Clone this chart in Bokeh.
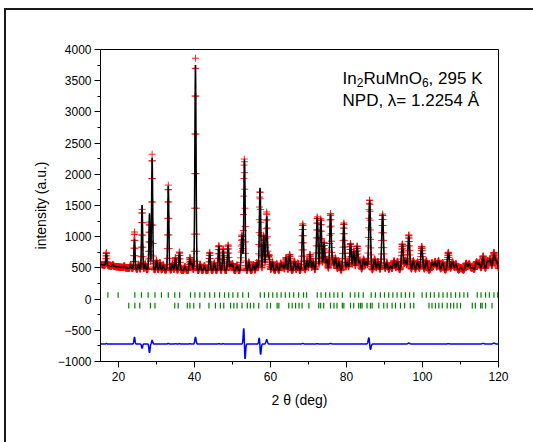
import numpy as np
from bokeh.plotting import figure
from bokeh.models import Range1d, Label, SingleIntervalTicker
from bokeh.embed import file_html
from bokeh.resources import INLINE

# ---------------- data ----------------
two_theta_start = 15.3
two_theta_end = 120.0
two_theta_step = 0.05

bg_pos = [15.3, 18, 20, 22, 25, 30, 40, 60, 80, 100, 120]
bg_val = [555, 530, 515, 500, 480, 470, 460, 455, 460, 465, 465]

# main reflections: position, calculated height, observed height, observed position
peak_pos = [16.8, 24.2, 26.2, 28.15, 28.85, 30.0, 33.1, 35.0, 36.05, 38.8,
            40.25, 44.0, 46.4, 47.55, 48.85, 50.0, 52.45, 53.15, 57.25, 58.2,
            59.0, 59.6, 61.65, 64.1, 65.05, 68.5, 70.4, 72.3, 73.25, 74.1,
            75.8, 77.1, 79.3, 81.05, 81.9, 82.8, 84.5, 86.1, 89.5, 91.6,
            94.7, 96.4, 99.8, 102.5, 106.8, 110.1, 113.1, 115.95, 118.8]
peak_calc = [195, 480, 1030, 900, 1790, 150, 1350, 195, 285, 200,
             3290, 290, 395, 345, 410, 110, 570, 1780, 1330, 570,
             870, 250, 110, 210, 260, 740, 260, 855, 830, 450,
             900, 200, 760, 430, 310, 390, 180, 1120, 900, 70,
             420, 550, 380, 120, 280, 40, 40, 215, 265]
peak_obs = [205, 590, 960, 760, 1850, 150, 1360, 200, 290, 205,
            3400, 290, 400, 350, 410, 110, 570, 1790, 1270, 570,
            940, 250, 110, 210, 260, 750, 260, 860, 830, 450,
            910, 200, 760, 430, 310, 390, 180, 1130, 900, 70,
            420, 565, 380, 120, 285, 40, 40, 225, 280]
peak_obs_pos = [16.8, 24.2, 26.2, 28.15, 28.85, 30.0, 33.1, 35.0, 36.05, 38.8,
                40.25, 44.0, 46.4, 47.55, 48.85, 50.0, 52.45, 53.11, 57.22, 58.2,
                59.0, 59.6, 61.65, 64.1, 65.05, 68.5, 70.4, 72.3, 73.25, 74.1,
                75.8, 77.1, 79.3, 81.05, 81.9, 82.8, 84.5, 86.07, 89.5, 91.6,
                94.7, 96.4, 99.8, 102.5, 106.8, 110.1, 113.1, 115.95, 118.8]

# weak reflections (the "grass" between the main peaks)
minor_pos = [18.5, 21.5, 23.2, 25.3, 27.0, 30.9, 31.8, 34.2, 37.5, 39.3,
             41.5, 42.6, 45.2, 49.5, 51.2, 54.3, 55.5, 56.4, 60.5, 62.7,
             63.3, 66.3, 67.2, 69.6, 71.2, 74.8, 76.4, 78.0, 80.2, 83.5,
             85.2, 87.4, 88.3, 90.6, 92.5, 93.4, 95.5, 97.6, 98.7, 101.0,
             103.3, 104.2, 105.3, 107.9, 108.8, 111.5, 112.3, 114.2, 114.9,
             117.1, 117.8, 119.5]
minor_h = [30, 30, 60, 80, 90, 120, 80, 100, 60, 120,
           100, 80, 120, 100, 90, 140, 100, 130, 140, 120,
           90, 150, 120, 160, 140, 180, 160, 150, 130, 150,
           140, 180, 140, 120, 150, 140, 160, 150, 130, 150,
           140, 150, 120, 130, 100, 110, 100, 130, 110,
           150, 180, 150]

diff_offset = -720

# Bragg positions, phase 1 and phase 2
refl_phase1 = [17.2, 19.9, 24.3, 26.05, 27.8, 29.6, 31.3, 33.1, 34.8, 36.1,
               38.95, 40.1, 41.4, 42.7, 44.0, 45.3, 46.6, 47.9, 49.0, 50.1,
               51.4, 52.7, 54.2, 57.3, 58.4, 59.5, 60.6, 61.7, 62.8, 63.9,
               65.0, 66.1, 67.4, 68.7, 69.5, 72.3, 73.3, 74.5, 75.6, 76.7,
               77.7, 78.9, 81.0, 82.2, 83.2, 84.4, 86.5, 87.6, 88.9, 90.0,
               91.1, 92.2, 93.3, 94.4, 95.5, 96.6, 97.7, 99.9, 101.0, 102.1,
               103.1, 104.3, 105.4, 106.5, 107.5, 108.7, 109.8, 110.9, 111.9,
               114.4, 115.4, 116.6, 117.6, 118.8, 119.8]
refl_phase2 = [22.7, 24.3, 25.6, 28.4, 29.6, 34.8, 35.7, 38.1, 38.8, 39.8,
               41.4, 43.8, 45.5, 46.8, 47.7, 49.5, 50.35, 51.2, 52.5, 53.9,
               54.7, 55.6, 56.9, 59.1, 60.0, 61.75, 62.2, 64.8, 65.7, 66.6,
               67.5, 68.3, 70.1, 72.7, 73.2, 74.0, 75.8, 76.7, 77.5, 78.9,
               79.3, 81.05, 81.9, 83.2, 83.7, 84.1, 85.4, 86.3, 86.75, 88.5,
               89.8, 90.7, 92.0, 92.9, 94.2, 95.3, 96.8, 97.7, 101.7, 102.5,
               103.4, 104.3, 105.2, 106.5, 107.4, 108.2, 109.1, 110.0, 113.1,
               113.9, 115.3, 115.7, 116.6, 118.3]

# ---------------- profile computation ----------------
x = np.arange(two_theta_start, two_theta_end + two_theta_step / 2, two_theta_step)
bg = np.interp(x, bg_pos, bg_val)


def fwhm(t):
    return 0.30 + 0.003 * (t - 15.0)


def profile(positions, heights):
    y = np.zeros_like(x)
    for pos, h in zip(positions, heights):
        w = fwhm(pos)
        y += h * np.exp(-4 * np.log(2) * (x - pos) ** 2 / w ** 2)
    return y


minor = profile(minor_pos, minor_h)
calc = bg + minor + profile(peak_pos, peak_calc)
obs = bg + minor + profile(peak_obs_pos, peak_obs)
diff = obs - calc + diff_offset

# ---------------- figure ----------------
FONT = "Liberation Sans"

p = figure(output_backend="svg", toolbar_location=None,
           frame_width=398, frame_height=312,
           min_border_left=94, min_border_right=35,
           min_border_top=39, min_border_bottom=81,
           x_range=Range1d(15.26, 120), y_range=Range1d(-1000, 4000),
           background_fill_color="white", border_fill_color="white")
p.styles = {"margin-left": "4px", "margin-top": "8px",
            "border-left": "2px solid #1a1a1a", "border-top": "2px solid #1a1a1a"}

p.xgrid.visible = False
p.ygrid.visible = False
p.outline_line_color = "black"
p.outline_line_width = 1

p.scatter(x, obs, marker="cross", size=7, line_color="#ff0000",
          line_width=1, line_alpha=0.85)
p.line(x, calc, line_color="black", line_width=1.5)
p.line(x, diff, line_color="#0000ff", line_width=1.5)

p.segment(x0=refl_phase1, y0=20, x1=refl_phase1, y1=110,
          line_color="#008000", line_width=1.2)
p.segment(x0=refl_phase2, y0=-60, x1=refl_phase2, y1=-150,
          line_color="#008000", line_width=1.2)

for ax in (p.xaxis[0], p.yaxis[0]):
    ax.axis_line_color = "black"
    ax.major_tick_line_color = "black"
    ax.minor_tick_line_color = "black"
    ax.major_tick_out = 6
    ax.major_tick_in = 0
    ax.minor_tick_out = 3
    ax.minor_tick_in = 0
    ax.major_label_text_font = FONT
    ax.major_label_text_font_size = "12px"
    ax.major_label_text_color = "black"
    ax.axis_label_text_font = FONT
    ax.axis_label_text_font_size = "14px"
    ax.axis_label_text_font_style = "normal"
    ax.axis_label_text_color = "black"

p.xaxis.ticker = SingleIntervalTicker(interval=20, num_minor_ticks=2)
p.yaxis.ticker = SingleIntervalTicker(interval=500, num_minor_ticks=2)
p.xaxis.axis_label = "2 θ (deg)"
p.yaxis.axis_label = "intensity (a.u.)"
p.xaxis.major_label_standoff = 4
p.yaxis.major_label_standoff = 3
p.xaxis.axis_label_standoff = 8
p.yaxis.axis_label_standoff = 6

# annotation with subscripts
lx, ly1, ly2, lsub = 78.95, 3530, 3183, 3465
pieces = [("In", 0, ly1, 17), ("2", 14.2, lsub, 12), ("RuMnO", 20.9, ly1, 17),
          ("6", 79.4, lsub, 12), (", 295 K", 86.1, ly1, 17)]
for txt, off, yy, fs in pieces:
    p.add_layout(Label(x=lx, y=yy, x_offset=off, text=txt,
                       text_font=FONT, text_font_size=f"{fs}px",
                       text_baseline="alphabetic", text_color="black"))
p.add_layout(Label(x=lx, y=ly2, text="NPD, λ= 1.2254 Å",
                   text_font=FONT, text_font_size="17px",
                   text_baseline="alphabetic", text_color="black"))

open("out.html", "w").write(file_html(p, INLINE))
